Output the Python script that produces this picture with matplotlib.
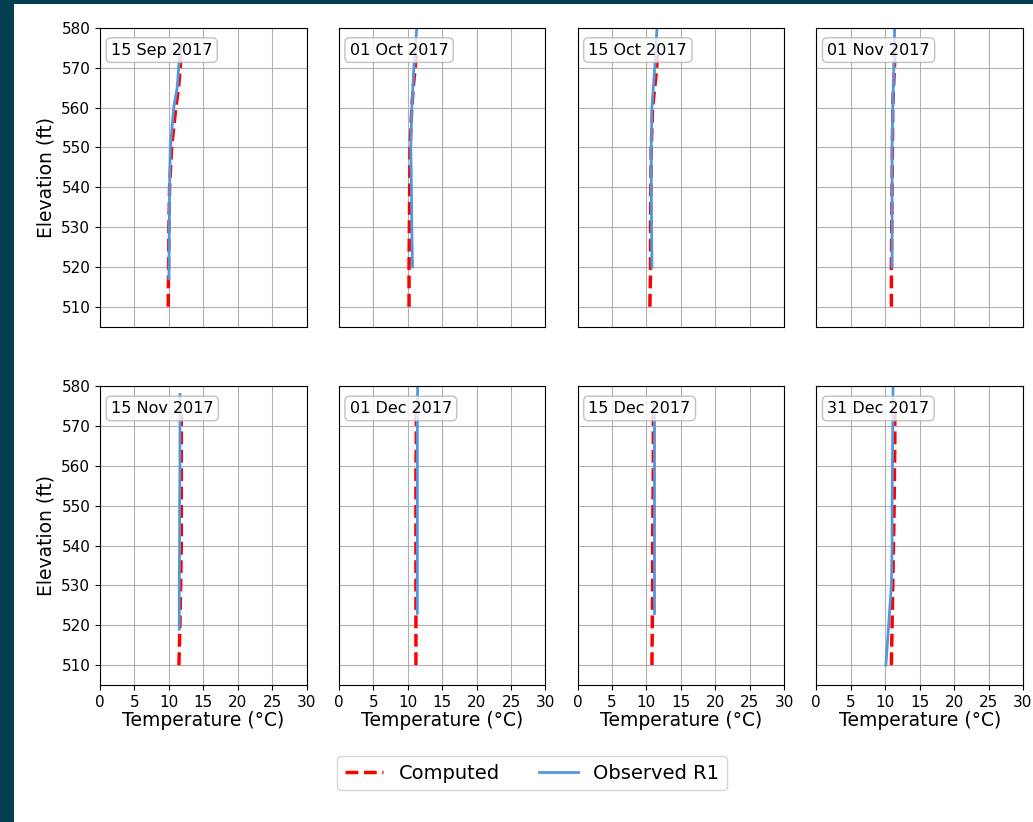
import matplotlib.pyplot as plt
from matplotlib.patches import Rectangle

# Даты профилей
dates = ["15 Sep 2017", "01 Oct 2017", "15 Oct 2017", "01 Nov 2017",
         "15 Nov 2017", "01 Dec 2017", "15 Dec 2017", "31 Dec 2017"]

# Расчётные профили (Computed): общие отметки, температуры по датам
comp_elev = [510, 520, 530, 540, 550, 560, 565, 570, 575]
comp_sep15 = [9.9, 9.95, 10.0, 10.1, 10.4, 11.0, 11.4, 11.65, 11.75]
comp_oct01 = [10.2, 10.2, 10.25, 10.3, 10.35, 10.6, 10.8, 11.1, 11.3]
comp_oct15 = [10.5, 10.6, 10.6, 10.65, 10.7, 10.9, 11.2, 11.5, 11.6]
comp_nov01 = [10.9, 10.9, 10.95, 11.0, 11.05, 11.1, 11.2, 11.35, 11.4]
comp_nov15 = [11.45, 11.6, 11.7, 11.8, 11.8, 11.8, 11.8, 11.8, 11.8]
comp_dec01 = [11.2, 11.2, 11.2, 11.2, 11.2, 11.2, 11.25, 11.25, 11.25]
comp_dec15 = [10.8, 10.85, 10.9, 10.9, 10.95, 11.0, 11.0, 11.0, 11.0]
comp_dec31 = [10.9, 11.0, 11.1, 11.2, 11.3, 11.35, 11.4, 11.4, 11.4]

# Наблюдения R1
obs_elev_sep15 = [517, 530, 540, 550, 554, 560, 565, 572, 576]
obs_sep15 = [10.0, 10.05, 10.1, 10.2, 10.4, 10.7, 11.2, 11.5, 11.8]
obs_elev_oct01 = [520, 530, 540, 550, 560, 570, 582]
obs_oct01 = [10.7, 10.6, 10.55, 10.45, 10.6, 10.9, 11.4]
obs_elev_oct15 = [520, 530, 540, 550, 560, 570, 582]
obs_oct15 = [10.8, 10.75, 10.7, 10.7, 10.8, 11.2, 11.6]
obs_elev_nov01 = [520, 530, 540, 550, 560, 570, 582]
obs_nov01 = [11.0, 11.0, 11.0, 11.0, 11.1, 11.25, 11.4]
obs_elev_nov15 = [519, 530, 540, 550, 560, 570, 578]
obs_nov15 = [11.5, 11.5, 11.55, 11.55, 11.6, 11.6, 11.6]
obs_elev_dec01 = [523, 530, 540, 550, 560, 570, 582]
obs_dec01 = [11.4, 11.4, 11.4, 11.4, 11.4, 11.4, 11.45]
obs_elev_dec15 = [523, 530, 540, 550, 560, 570, 576]
obs_dec15 = [11.1, 11.1, 11.1, 11.1, 11.1, 11.1, 11.1]
obs_elev_dec31 = [510, 520, 530, 540, 550, 560, 570, 582]
obs_dec31 = [10.1, 10.5, 10.9, 11.0, 11.0, 11.05, 11.1, 11.15]

computed = [comp_sep15, comp_oct01, comp_oct15, comp_nov01,
            comp_nov15, comp_dec01, comp_dec15, comp_dec31]
observed = [(obs_elev_sep15, obs_sep15), (obs_elev_oct01, obs_oct01),
            (obs_elev_oct15, obs_oct15), (obs_elev_nov01, obs_nov01),
            (obs_elev_nov15, obs_nov15), (obs_elev_dec01, obs_dec01),
            (obs_elev_dec15, obs_dec15), (obs_elev_dec31, obs_dec31)]

x_ticks = [0, 5, 10, 15, 20, 25, 30]
y_ticks = [510, 520, 530, 540, 550, 560, 570, 580]

fig, axes = plt.subplots(2, 4, figsize=(10.33, 8.22), dpi=100,
                         sharex=True, sharey=True)
fig.patch.set_facecolor("#023f50")
# белая подложка (скриншот на тёмном фоне)
fig.patches.append(Rectangle((14 / 1033, 0), 1, 1 - 4 / 822,
                             transform=fig.transFigure, facecolor="white",
                             edgecolor="none", zorder=-10))
fig.subplots_adjust(left=100 / 1033, right=1023 / 1033, top=1 - 28 / 822,
                    bottom=1 - 685 / 822, wspace=0.155, hspace=0.2)

for i, ax in enumerate(axes.flat):
    ax.plot(computed[i], comp_elev, "--", color="red", lw=2.5,
            label="Computed")
    ax.plot(observed[i][1], observed[i][0], "-", color="#4f97de", lw=2,
            label="Observed R1")
    ax.set_xlim(0, 30)
    ax.set_ylim(505, 580)
    ax.set_xticks(x_ticks)
    ax.set_yticks(y_ticks)
    ax.tick_params(labelsize=11)
    ax.grid(True)
    ax.text(0.053, 0.926, dates[i], transform=ax.transAxes, fontsize=11.5,
            va="center", ha="left",
            bbox=dict(boxstyle="round,pad=0.3", facecolor="white",
                      edgecolor="0.7", alpha=0.8))
    if i % 4 == 0:
        ax.set_ylabel("Elevation (ft)", fontsize=13.5)
    else:
        ax.tick_params(axis="y", length=0)
    if i >= 4:
        ax.set_xlabel("Temperature (°C)", fontsize=13.5, labelpad=1)
    else:
        ax.tick_params(axis="x", length=0)

handles, labels = axes[0, 0].get_legend_handles_labels()
fig.legend(handles, labels, loc="center", ncol=2, fontsize=14,
           bbox_to_anchor=(532 / 1033, 1 - 773 / 822))

plt.savefig("out.png", dpi=100, facecolor=fig.get_facecolor())
